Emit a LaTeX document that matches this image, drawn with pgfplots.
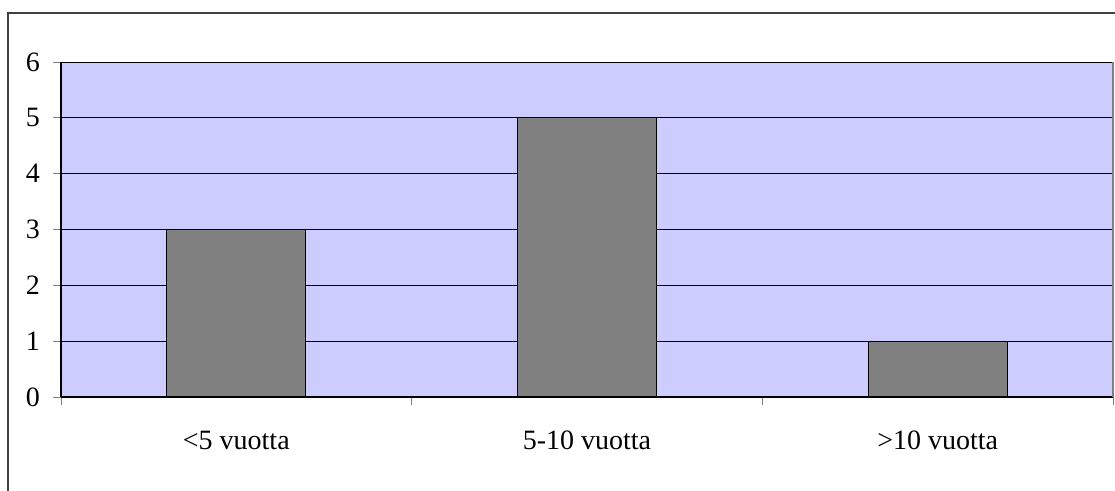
\documentclass[border=0pt]{standalone}
\usepackage{fontspec}
\setmainfont{Liberation Serif}
\usepackage{pgfplots}
\pgfplotsset{compat=1.18}
\definecolor{plotbg}{RGB}{204,204,255}
\definecolor{barfill}{RGB}{128,128,128}
\begin{document}
\fontsize{28}{34}\selectfont
\begin{tikzpicture}[x=1pt,y=1pt]
\path[use as bounding box] (0,0) rectangle (1115,490);
\draw[line width=1.5pt, color=black!75] (8,-5) -- (8,477) -- (1120,477);
\begin{axis}[
  at={(61pt,93pt)}, anchor=south west,
  scale only axis, width=1052pt, height=335pt,
  xmin=0, xmax=3, ymin=0, ymax=6,
  axis x line*=bottom, axis y line*=left,
  axis line style={black, line width=1.5pt},
  axis background/.style={fill=plotbg},
  ytick={0,1,2,3,4,5,6},
  ymajorgrids, grid style={black, line width=0.9pt},
  tick align=outside, major tick length=8pt,
  tick style={gray, line width=1pt},
  /pgf/number format/assume math mode=true,
  tick label style={font=\fontsize{28}{34}\selectfont},
  yticklabel style={inner sep=0pt, xshift=-13pt},
  xtick={0,1,2,3},
  xticklabels={},
  ybar, bar width=139pt, bar shift=0pt,
  clip=false,
]
\addplot[fill=barfill, draw=black, line width=1.3pt] coordinates {(0.5,3) (1.5,5) (2.5,1)};
\draw[gray, line width=1.2pt] (axis cs:3,0) -- (axis cs:3,6);
\node[font=\fontsize{28}{34}\selectfont] at ([yshift=-43pt]axis cs:0.5,0) {<5 vuotta};
\node[font=\fontsize{28}{34}\selectfont] at ([yshift=-43pt]axis cs:1.5,0) {5-10 vuotta};
\node[font=\fontsize{28}{34}\selectfont] at ([yshift=-43pt]axis cs:2.5,0) {>10 vuotta};
\end{axis}
\end{tikzpicture}
\end{document}
